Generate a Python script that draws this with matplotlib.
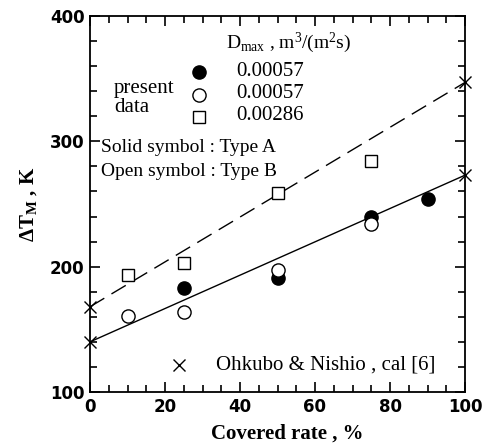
import matplotlib
matplotlib.use("Agg")
import matplotlib.pyplot as plt
from matplotlib.ticker import MultipleLocator

# Data
solidA_x = [25, 50, 75, 90]
solidA_y = [183, 191, 240, 254]
openB_x = [10, 25, 50, 75]
openB_y = [161, 164, 197, 234]
square_x = [10, 25, 50, 75]
square_y = [193, 203, 259, 284]
calc_x = [0, 100, 0, 100]
calc_y = [140, 273, 168, 347]
line_solid_x = [0, 100]
line_solid_y = [140, 273]
line_dash_x = [0, 100]
line_dash_y = [168, 347]

plt.rcParams["mathtext.fontset"] = "custom"
plt.rcParams["mathtext.rm"] = "Liberation Serif"
plt.rcParams["mathtext.it"] = "Liberation Serif:italic"
plt.rcParams["mathtext.bf"] = "Liberation Serif:bold"

serif = ["Liberation Serif", "DejaVu Serif"]

fig = plt.figure(figsize=(4.83, 4.46), dpi=100)
ax = fig.add_axes([90/483, 1-392/446, 375/483, 376/446])

ax.plot(line_solid_x, line_solid_y, color="black", lw=1.0)
ax.plot(line_dash_x, line_dash_y, color="black", lw=1.0, dashes=(12, 6))
ax.plot(calc_x, calc_y, "x", color="black", ms=9, mew=1.0, clip_on=False, zorder=5)
ax.plot(openB_x, openB_y, "o", mfc="white", mec="black", ms=9.5, mew=1.0, zorder=4)
ax.plot(solidA_x, solidA_y, "o", mfc="black", mec="black", ms=9.5, mew=1.0, zorder=3)
ax.plot(square_x, square_y, "s", mfc="white", mec="black", ms=9, mew=1.0, zorder=4)

ax.set_xlim(0, 100)
ax.set_ylim(100, 400)
ax.xaxis.set_major_locator(MultipleLocator(20))
ax.xaxis.set_minor_locator(MultipleLocator(5))
ax.yaxis.set_major_locator(MultipleLocator(100))
ax.yaxis.set_minor_locator(MultipleLocator(20))
ax.tick_params(which="both", direction="in", top=True, right=True, width=1.2)
ax.tick_params(which="major", length=7, labelsize=12, pad=4)
ax.tick_params(which="minor", length=5)
for lab in ax.get_xticklabels() + ax.get_yticklabels():
    lab.set_fontweight("bold")
for s in ax.spines.values():
    s.set_linewidth(1.3)

ax.set_xlabel("Covered rate , %", family=serif, fontweight="bold", fontsize=15, labelpad=7)
ax.xaxis.set_label_coords(0.525, -0.085)
ax.set_ylabel(r"$\mathbf{\Delta T_M}$ , K", family=serif, fontweight="bold", fontsize=15, labelpad=8)

# Legend-like annotations
def fx(px):
    return (px - 90) / 375

def fy(py):
    return (392 - py) / 376

tk = dict(family=serif, fontsize=15, color="black", transform=ax.transAxes)
ax.text(fx(226), fy(43), r"D$_{\rm max}$ , m$^3$/(m$^2$s)", ha="left", va="center",
        family=serif, fontsize=14, transform=ax.transAxes)
ax.text(fx(114), fy(98), "present\ndata", ha="left", va="center", linespacing=0.95, **tk)
ax.plot([fx(199)], [fy(72)], "o", transform=ax.transAxes, mfc="black", mec="black", ms=9.5)
ax.plot([fx(199)], [fy(95)], "o", transform=ax.transAxes, mfc="white", mec="black", ms=9.5)
ax.plot([fx(199)], [fy(117)], "s", transform=ax.transAxes, mfc="white", mec="black", ms=9)
ax.text(fx(236), fy(72), "0.00057", ha="left", va="center", **tk)
ax.text(fx(236), fy(94), "0.00057", ha="left", va="center", **tk)
ax.text(fx(236), fy(116), "0.00286", ha="left", va="center", **tk)
ax.text(fx(101), fy(148), "Solid symbol : Type A", ha="left", va="center", family=serif, fontsize=14, transform=ax.transAxes)
ax.text(fx(101), fy(172), "Open symbol : Type B", ha="left", va="center", family=serif, fontsize=14, transform=ax.transAxes)
ax.plot([fx(179)], [fy(365)], "x", transform=ax.transAxes, color="black", ms=9, mew=1.0)
ax.text(fx(216), fy(365), "Ohkubo & Nishio , cal [6]", ha="left", va="center", **tk)

fig.savefig("out.png", dpi=100)
